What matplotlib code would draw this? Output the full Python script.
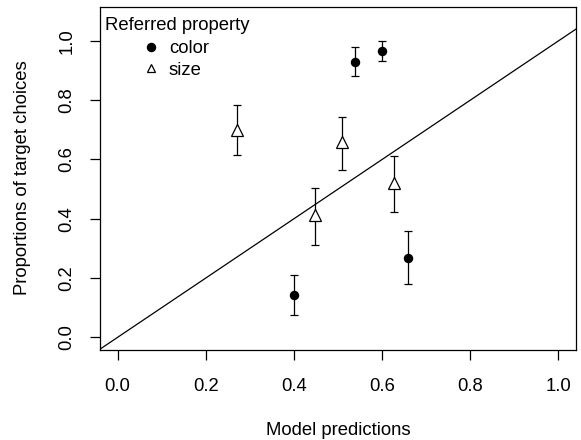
import matplotlib
matplotlib.use("Agg")
import matplotlib.pyplot as plt
from matplotlib.lines import Line2D

plt.rcParams['font.family'] = ['Liberation Sans', 'DejaVu Sans']

# Data
color_x = [0.40, 0.659, 0.539, 0.600]
color_y = [0.142, 0.267, 0.929, 0.966]
color_lo = [0.075, 0.181, 0.880, 0.931]
color_hi = [0.210, 0.358, 0.978, 0.999]

size_x = [0.270, 0.510, 0.627, 0.448]
size_y = [0.700, 0.659, 0.522, 0.413]
size_lo = [0.615, 0.566, 0.423, 0.310]
size_hi = [0.784, 0.745, 0.612, 0.503]

xticks = [0.0, 0.2, 0.4, 0.6, 0.8, 1.0]
yticks = [0.0, 0.2, 0.4, 0.6, 0.8, 1.0]
xlabel = "Model predictions"
ylabel = "Proportions of target choices"
legend_title = "Referred property"
legend_labels = ["color", "size"]

FS = 13.3
W, H = 581, 440
fig = plt.figure(figsize=(W / 100, H / 100), dpi=100)
ax = fig.add_axes([100 / W, 1 - 350 / H, 476 / W, (350 - 7.5) / H])

# identity line
ax.axline((0, 0), slope=1, color='black', lw=0.9, zorder=1)

def err(xs, ys, lo, hi):
    yerr = [[y - l for y, l in zip(ys, lo)], [h - y for y, h in zip(ys, hi)]]
    ax.errorbar(xs, ys, yerr=yerr, fmt='none', ecolor='black', elinewidth=0.9,
                capsize=3.2, capthick=0.9, zorder=2)

err(color_x, color_y, color_lo, color_hi)
err(size_x, size_y, size_lo, size_hi)
ax.plot(color_x, color_y, 'o', color='black', ms=5.8, zorder=3)
ax.plot(size_x, size_y, '^', mfc='white', mec='black', mew=0.9, ms=8.3, zorder=3)

ax.set_xlim(-0.04, 1.04)
ax.set_ylim(-0.0428, 1.1128)
ax.set_xticks(xticks)
ax.set_xticklabels([f"{v:.1f}" for v in xticks])
ax.set_yticks(yticks)
ax.set_yticklabels([f"{v:.1f}" for v in yticks], rotation=90, va='center')
ax.tick_params(axis='both', direction='out', length=7.5, width=0.9,
               labelsize=FS)
ax.tick_params(axis='x', pad=13)
ax.tick_params(axis='y', pad=10)
for s in ax.spines.values():
    s.set_linewidth(0.9)

fig.text(338 / W, 1 - 430 / H, xlabel, ha='center', va='center', fontsize=FS)
fig.text(23 / W, 1 - 178 / H, ylabel, ha='center', va='center', rotation=90, fontsize=FS)

# legend
ax.text(105 / W, 1 - 25.7 / H, legend_title, transform=fig.transFigure,
        ha='left', va='center', fontsize=FS)
handles = [Line2D([], [], ls='none', marker='o', color='black', ms=5.8),
           Line2D([], [], ls='none', marker='^', mfc='white', mec='black', mew=0.9, ms=6.0)]
leg = ax.legend(handles, legend_labels, loc='upper left',
                bbox_to_anchor=(142 / W, 1 - 40 / H), bbox_transform=fig.transFigure,
                frameon=False, fontsize=FS, handlelength=1.0, handletextpad=0.45,
                borderpad=0.0, borderaxespad=0.0, labelspacing=0.25)

fig.savefig("out.png", dpi=100)
